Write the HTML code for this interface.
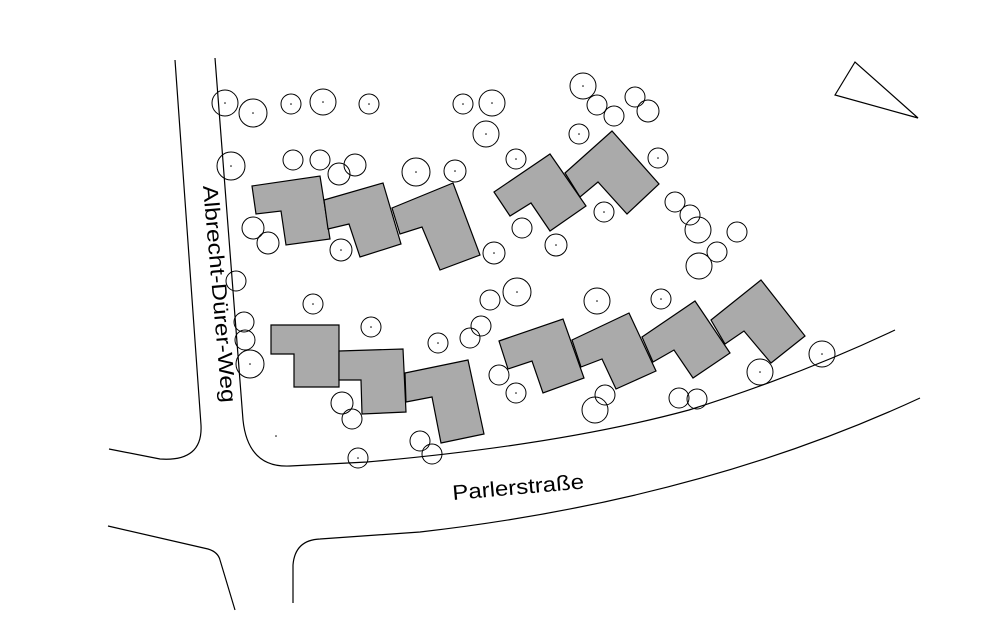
<!DOCTYPE html>
<html><head><meta charset="utf-8"><style>html,body{margin:0;padding:0;background:#fff}svg{display:block}</style></head>
<body>
<svg width="1000" height="632" viewBox="0 0 1000 632" xmlns="http://www.w3.org/2000/svg">
<g fill="none" stroke="#000" stroke-width="1.2">
<path d="M175,60 L201,425 Q203,462 160,459 L109,449"/>
<path d="M215,58 L243,420 Q248,468 290,466 L367,462 Q560,445 689,410 Q800,375 895,330"/>
<path d="M108,526 L208,549 Q218,552 220,560 L235,610"/>
<path d="M293,603 L293,565 Q295,540 320,539 L420,532 Q700,500 920,398"/>
<polygon points="835,95 855,62 918,118"/>
</g>
<g fill="#aaa" stroke="#000" stroke-width="1.2">
<polygon points="252,186 320,176 330,239 286,245 281,211 256,214"/>
<polygon points="324,200 383,183 401,244 360,257 349,224 328,229"/>
<polygon points="392,208 453,183 480,255 440,270 422,227 400,234"/>
<polygon points="494,192 550,154 586,206 550,231 531,203 510,216"/>
<polygon points="565,173 612,131 659,184 627,214 598,182 580,197"/>
<polygon points="271,325 339,325 339,387 294,387 294,354 271,354"/>
<polygon points="339,351 403,349 406,412 362,414 361,380 339,380"/>
<polygon points="405,373 468,360 484,434 441,443 432,397 406,402"/>
<polygon points="499,341 563,319 584,378 543,393 532,361 508,369"/>
<polygon points="572,340 629,313 656,371 616,389 602,359 581,367"/>
<polygon points="642,337 695,301 730,353 693,378 674,350 653,362"/>
<polygon points="711,320 761,280 805,336 771,363 744,331 725,344"/>
</g>
<g fill="none" stroke="#000" stroke-width="1" id="t">
<circle cx="225" cy="103" r="13"/><circle cx="253" cy="113" r="14"/><circle cx="291" cy="104" r="10"/><circle cx="323" cy="102" r="13"/><circle cx="369" cy="104" r="10"/><circle cx="463" cy="104" r="10"/><circle cx="492" cy="103" r="13"/><circle cx="583" cy="86" r="13"/><circle cx="597" cy="105" r="10"/><circle cx="614" cy="116" r="10"/><circle cx="635" cy="97" r="10"/><circle cx="648" cy="111" r="11"/><circle cx="486" cy="134" r="13"/><circle cx="579" cy="134" r="10"/><circle cx="231" cy="166" r="14"/><circle cx="293" cy="160" r="10"/><circle cx="320" cy="160" r="10"/><circle cx="339" cy="174" r="11"/><circle cx="355" cy="165" r="11"/><circle cx="416" cy="172" r="14"/><circle cx="455" cy="171" r="11"/><circle cx="516" cy="159" r="10"/><circle cx="658" cy="158" r="10"/><circle cx="253" cy="228" r="11"/><circle cx="268" cy="243" r="11"/><circle cx="341" cy="250" r="11"/><circle cx="494" cy="253" r="11"/><circle cx="522" cy="228" r="10"/><circle cx="556" cy="245" r="11"/><circle cx="604" cy="212" r="10"/><circle cx="675" cy="202" r="10"/><circle cx="690" cy="215" r="10"/><circle cx="698" cy="230" r="13"/><circle cx="737" cy="232" r="10"/><circle cx="717" cy="252" r="10"/><circle cx="699" cy="266" r="13"/><circle cx="236" cy="281" r="10"/><circle cx="313" cy="304" r="10"/><circle cx="371" cy="327" r="10"/><circle cx="244" cy="322" r="10"/><circle cx="245" cy="340" r="10"/><circle cx="250" cy="364" r="14"/><circle cx="490" cy="300" r="10"/><circle cx="517" cy="292" r="14"/><circle cx="597" cy="301" r="13"/><circle cx="661" cy="299" r="10"/><circle cx="438" cy="343" r="10"/><circle cx="470" cy="338" r="10"/><circle cx="481" cy="326" r="10"/><circle cx="499" cy="375" r="10"/><circle cx="516" cy="393" r="10"/><circle cx="342" cy="403" r="11"/><circle cx="352" cy="419" r="10"/><circle cx="420" cy="441" r="10"/><circle cx="432" cy="454" r="10"/><circle cx="358" cy="458" r="10"/><circle cx="605" cy="395" r="10"/><circle cx="595" cy="410" r="13"/><circle cx="679" cy="398" r="10"/><circle cx="697" cy="399" r="10"/><circle cx="760" cy="372" r="13"/><circle cx="822" cy="354" r="13"/>
</g>
<g fill="#000">
<circle cx="225" cy="103" r="0.8"/><circle cx="253" cy="113" r="0.8"/><circle cx="291" cy="104" r="0.8"/><circle cx="323" cy="102" r="0.8"/><circle cx="369" cy="104" r="0.8"/><circle cx="463" cy="104" r="0.8"/><circle cx="492" cy="103" r="0.8"/><circle cx="583" cy="86" r="0.8"/><circle cx="486" cy="134" r="0.8"/><circle cx="579" cy="134" r="0.8"/><circle cx="231" cy="166" r="0.8"/><circle cx="416" cy="172" r="0.8"/><circle cx="455" cy="171" r="0.8"/><circle cx="516" cy="159" r="0.8"/><circle cx="658" cy="158" r="0.8"/><circle cx="341" cy="250" r="0.8"/><circle cx="494" cy="253" r="0.8"/><circle cx="556" cy="245" r="0.8"/><circle cx="604" cy="212" r="0.8"/><circle cx="313" cy="304" r="0.8"/><circle cx="371" cy="327" r="0.8"/><circle cx="250" cy="364" r="0.8"/><circle cx="517" cy="292" r="0.8"/><circle cx="597" cy="301" r="0.8"/><circle cx="661" cy="299" r="0.8"/><circle cx="438" cy="343" r="0.8"/><circle cx="516" cy="393" r="0.8"/><circle cx="760" cy="372" r="0.8"/><circle cx="822" cy="354" r="0.8"/><circle cx="358" cy="458" r="0.8"/><circle cx="276" cy="436" r="0.8"/>
</g>
<text x="0" y="0" transform="translate(203,186) rotate(85)" font-family="Liberation Sans, sans-serif" font-size="21" fill="#000" textLength="218" lengthAdjust="spacingAndGlyphs">Albrecht-Dürer-Weg</text>
<text x="0" y="0" transform="translate(453,500) rotate(-5)" font-family="Liberation Sans, sans-serif" font-size="21" fill="#000" textLength="132" lengthAdjust="spacingAndGlyphs">Parlerstraße</text>
</svg>
</body></html>
